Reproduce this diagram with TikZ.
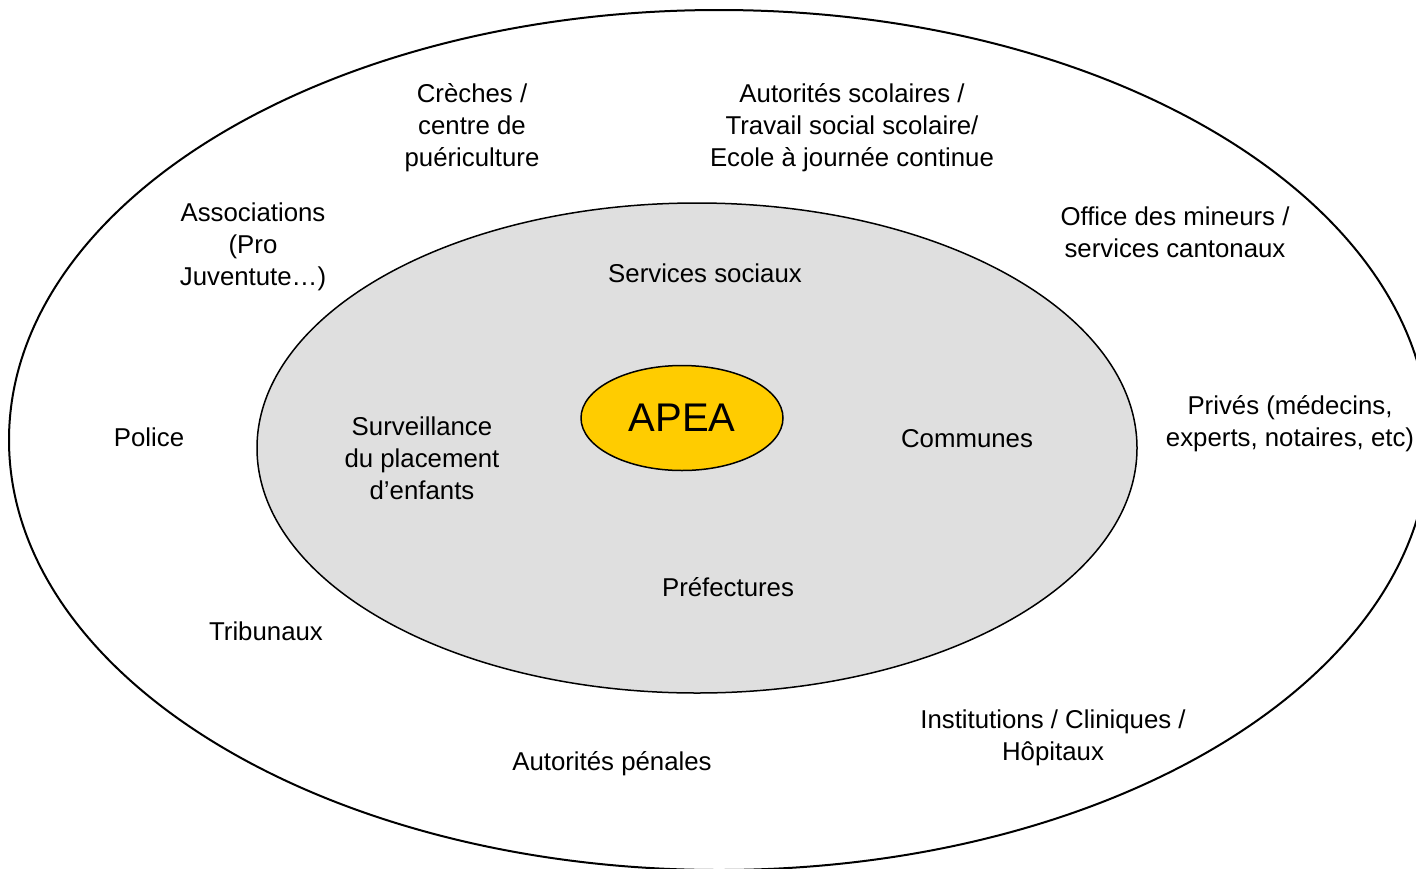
\documentclass[tikz,border=0pt]{standalone}
\usepackage{fontspec}
\setmainfont{Liberation Sans}
\usetikzlibrary{shapes.geometric}
\definecolor{innergray}{HTML}{DFDFDF}
\definecolor{apeayellow}{HTML}{FFCC00}
\begin{document}
\begin{tikzpicture}[x=1pt,y=-1pt,
  lbl/.style={align=center,inner sep=0pt,font=\fontsize{25.8}{32}\selectfont},
  ring/.style={ellipse,draw=black,inner sep=0pt}]
\useasboundingbox (0,0) rectangle (1416,868);
\clip (0,0) rectangle (1416,868);
\node[ring,line width=2pt,minimum width=1420pt,minimum height=860pt] (outer) at (719,440) {};
\node[ring,line width=1.5pt,fill=innergray,minimum width=880pt,minimum height=490pt] (inner) at (697,448) {};
\node[ring,line width=1.5pt,fill=apeayellow,minimum width=202pt,minimum height=105pt,font=\fontsize{40}{48}\selectfont] (apea) at (682,418) {APEA};
\node[lbl] (creches) at (472,128) {Crèches /\\centre de\\puériculture};
\node[lbl] (scol) at (852,128) {Autorités scolaires /\\Travail social scolaire/\\Ecole à journée continue};
\node[lbl] (assoc) at (253,247) {Associations\\(Pro\\Juventute…)};
\node[lbl] (office) at (1175,232) {Office des mineurs /\\services cantonaux};
\node[lbl] (servsoc) at (705,273) {Services sociaux};
\node[lbl] (police) at (149,437) {Police};
\node[lbl] (surv) at (422,458) {Surveillance\\du placement\\d’enfants};
\node[lbl] (communes) at (967,439) {Communes};
\node[lbl] (prives) at (1290,424) {Privés (médecins,\\experts, notaires, etc)};
\node[lbl] (prefect) at (728,587) {Préfectures};
\node[lbl] (tribun) at (266,631) {Tribunaux};
\node[lbl] (instit) at (1053,738) {Institutions / Cliniques /\\Hôpitaux};
\node[lbl] (penal) at (612,764) {Autorités pénales};
\end{tikzpicture}
\end{document}
